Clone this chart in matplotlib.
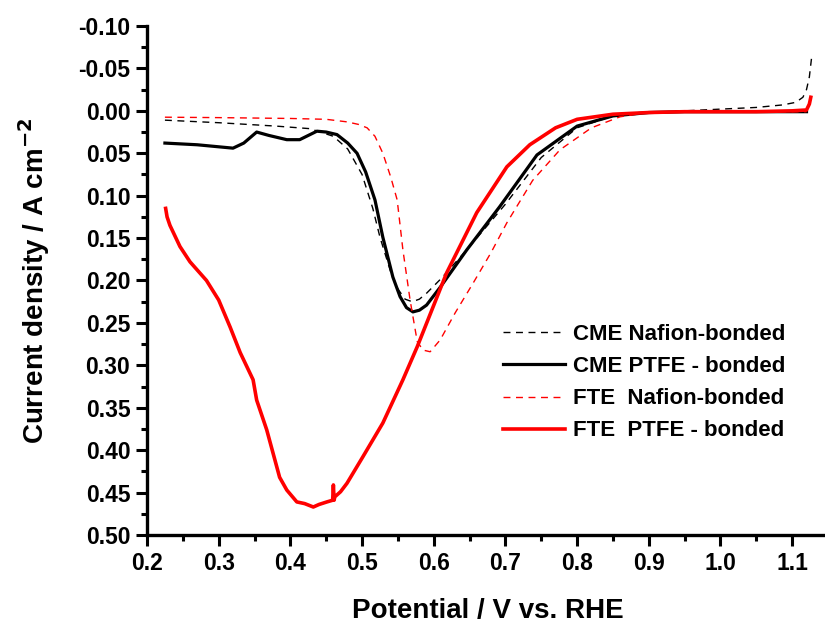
import matplotlib
matplotlib.use("Agg")
import matplotlib.pyplot as plt
from matplotlib.ticker import MultipleLocator, FuncFormatter

plt.rcParams['font.family'] = ['Liberation Sans', 'DejaVu Sans']
plt.rcParams['font.weight'] = 'bold'

# CME Nafion-bonded (black dashed)
cme_naf_x = [0.225, 0.30, 0.38, 0.427, 0.46, 0.48, 0.50, 0.515, 0.525, 0.54, 0.55, 0.56,
             0.57, 0.58, 0.59, 0.61, 0.65, 0.70, 0.75, 0.80, 0.85, 0.90, 0.95, 1.00,
             1.05, 1.087, 1.105, 1.115, 1.12, 1.124, 1.127]
cme_naf_y = [0.011, 0.014, 0.018, 0.021, 0.030, 0.045, 0.075, 0.115, 0.149, 0.190, 0.210, 0.222,
             0.225, 0.222, 0.215, 0.198, 0.160, 0.110, 0.055, 0.020, 0.006, 0.002, 0.000, -0.002,
             -0.004, -0.007, -0.010, -0.016, -0.025, -0.040, -0.062]

# CME PTFE-bonded (black solid)
cme_ptfe_x = [0.225, 0.27, 0.32, 0.335, 0.353, 0.37, 0.395, 0.413, 0.425, 0.437, 0.45, 0.465,
              0.48, 0.493, 0.505, 0.518, 0.529, 0.543, 0.553, 0.562, 0.571, 0.580, 0.590,
              0.609, 0.646, 0.692, 0.744, 0.80, 0.85, 0.90, 0.95, 1.00, 1.05, 1.10, 1.12]
cme_ptfe_y = [0.038, 0.040, 0.044, 0.038, 0.025, 0.029, 0.034, 0.034, 0.029, 0.024, 0.025, 0.028,
              0.038, 0.050, 0.072, 0.105, 0.149, 0.196, 0.219, 0.232, 0.237, 0.235, 0.229,
              0.208, 0.164, 0.113, 0.052, 0.018, 0.006, 0.002, 0.001, 0.001, 0.001, 0.001, 0.001]

# FTE Nafion-bonded (red dashed)
fte_naf_x = [0.225, 0.30, 0.40, 0.45, 0.479, 0.495, 0.507, 0.518, 0.529, 0.540, 0.549, 0.557,
             0.567, 0.577, 0.585, 0.595, 0.609, 0.63, 0.655, 0.68, 0.702, 0.738, 0.776,
             0.82, 0.86, 0.90, 0.95, 1.00, 1.05, 1.10, 1.12]
fte_naf_y = [0.0075, 0.008, 0.009, 0.010, 0.013, 0.016, 0.020, 0.030, 0.050, 0.078, 0.105, 0.164,
             0.223, 0.272, 0.282, 0.284, 0.270, 0.238, 0.203, 0.167, 0.132, 0.082, 0.046,
             0.020, 0.007, 0.002, 0.001, 0.001, 0.001, 0.001, 0.001]

# FTE PTFE-bonded (red solid)
fte_ptfe_x = [0.226, 0.228, 0.232, 0.246, 0.260, 0.283, 0.300, 0.316, 0.330, 0.348, 0.353,
              0.367, 0.385, 0.395, 0.409, 0.420, 0.432, 0.440, 0.451, 0.459, 0.460, 0.461,
              0.462, 0.470, 0.479, 0.501, 0.529, 0.557, 0.577, 0.618, 0.660, 0.702, 0.734,
              0.77, 0.80, 0.85, 0.90, 0.95, 1.00, 1.05, 1.10, 1.12, 1.124, 1.126]
fte_ptfe_y = [0.115, 0.125, 0.135, 0.160, 0.178, 0.200, 0.223, 0.255, 0.285, 0.317, 0.341,
              0.376, 0.432, 0.447, 0.461, 0.463, 0.467, 0.464, 0.461, 0.459, 0.441, 0.459,
              0.455, 0.449, 0.439, 0.408, 0.368, 0.317, 0.278, 0.191, 0.120, 0.066, 0.040,
              0.020, 0.010, 0.004, 0.002, 0.001, 0.001, 0.001, 0.000, -0.001, -0.008, -0.016]

fig = plt.figure(figsize=(8.25, 6.26), dpi=100)
ax = fig.add_axes([147 / 825, 91 / 626, 681 / 825, 509 / 626])

ax.plot(cme_naf_x, cme_naf_y, color='black', ls=(0, (5, 4)), lw=1.0,
        label='CME Nafion-bonded')
ax.plot(cme_ptfe_x, cme_ptfe_y, color='black', ls='-', lw=2.3,
        label='CME PTFE - bonded')
ax.plot(fte_naf_x, fte_naf_y, color='red', ls=(0, (5, 4)), lw=1.0,
        label='FTE  Nafion-bonded')
ax.plot(fte_ptfe_x, fte_ptfe_y, color='red', ls='-', lw=2.6,
        label='FTE  PTFE - bonded')

ax.set_xlim(0.2, 1.15)
ax.set_ylim(0.50, -0.10)

ax.xaxis.set_major_locator(MultipleLocator(0.1))
ax.xaxis.set_minor_locator(MultipleLocator(0.05))
ax.yaxis.set_major_locator(MultipleLocator(0.05))
ax.yaxis.set_minor_locator(MultipleLocator(0.025))
ax.xaxis.set_major_formatter(FuncFormatter(lambda v, p: f"{v:.1f}".replace('\u2212', '-')))
ax.yaxis.set_major_formatter(FuncFormatter(lambda v, p: f"{v:.2f}".replace('\u2212', '-')))

for s in ['top', 'right']:
    ax.spines[s].set_visible(False)
for s in ['left', 'bottom']:
    ax.spines[s].set_linewidth(2.4)

ax.tick_params(which='major', direction='out', length=8, width=2.2, labelsize=16.5, pad=4)
ax.tick_params(which='minor', direction='out', length=4.5, width=2.2)
for lbl in ax.get_xticklabels() + ax.get_yticklabels():
    lbl.set_fontweight('bold')

ax.set_xlabel('Potential / V vs. RHE', fontsize=20, fontweight='bold', labelpad=17)
ax.set_ylabel('Current density / A cm$^{\\mathbf{-2}}$', fontsize=20, fontweight='bold', labelpad=19)

leg = ax.legend(loc='upper left', bbox_to_anchor=(492 / 825, 1 - 313 / 626),
                bbox_transform=fig.transFigure, frameon=False,
                prop={'size': 16, 'weight': 'bold'}, handlelength=2.8,
                handletextpad=0.35, labelspacing=0.5, borderpad=0)

fig.savefig('out.png', dpi=100)
